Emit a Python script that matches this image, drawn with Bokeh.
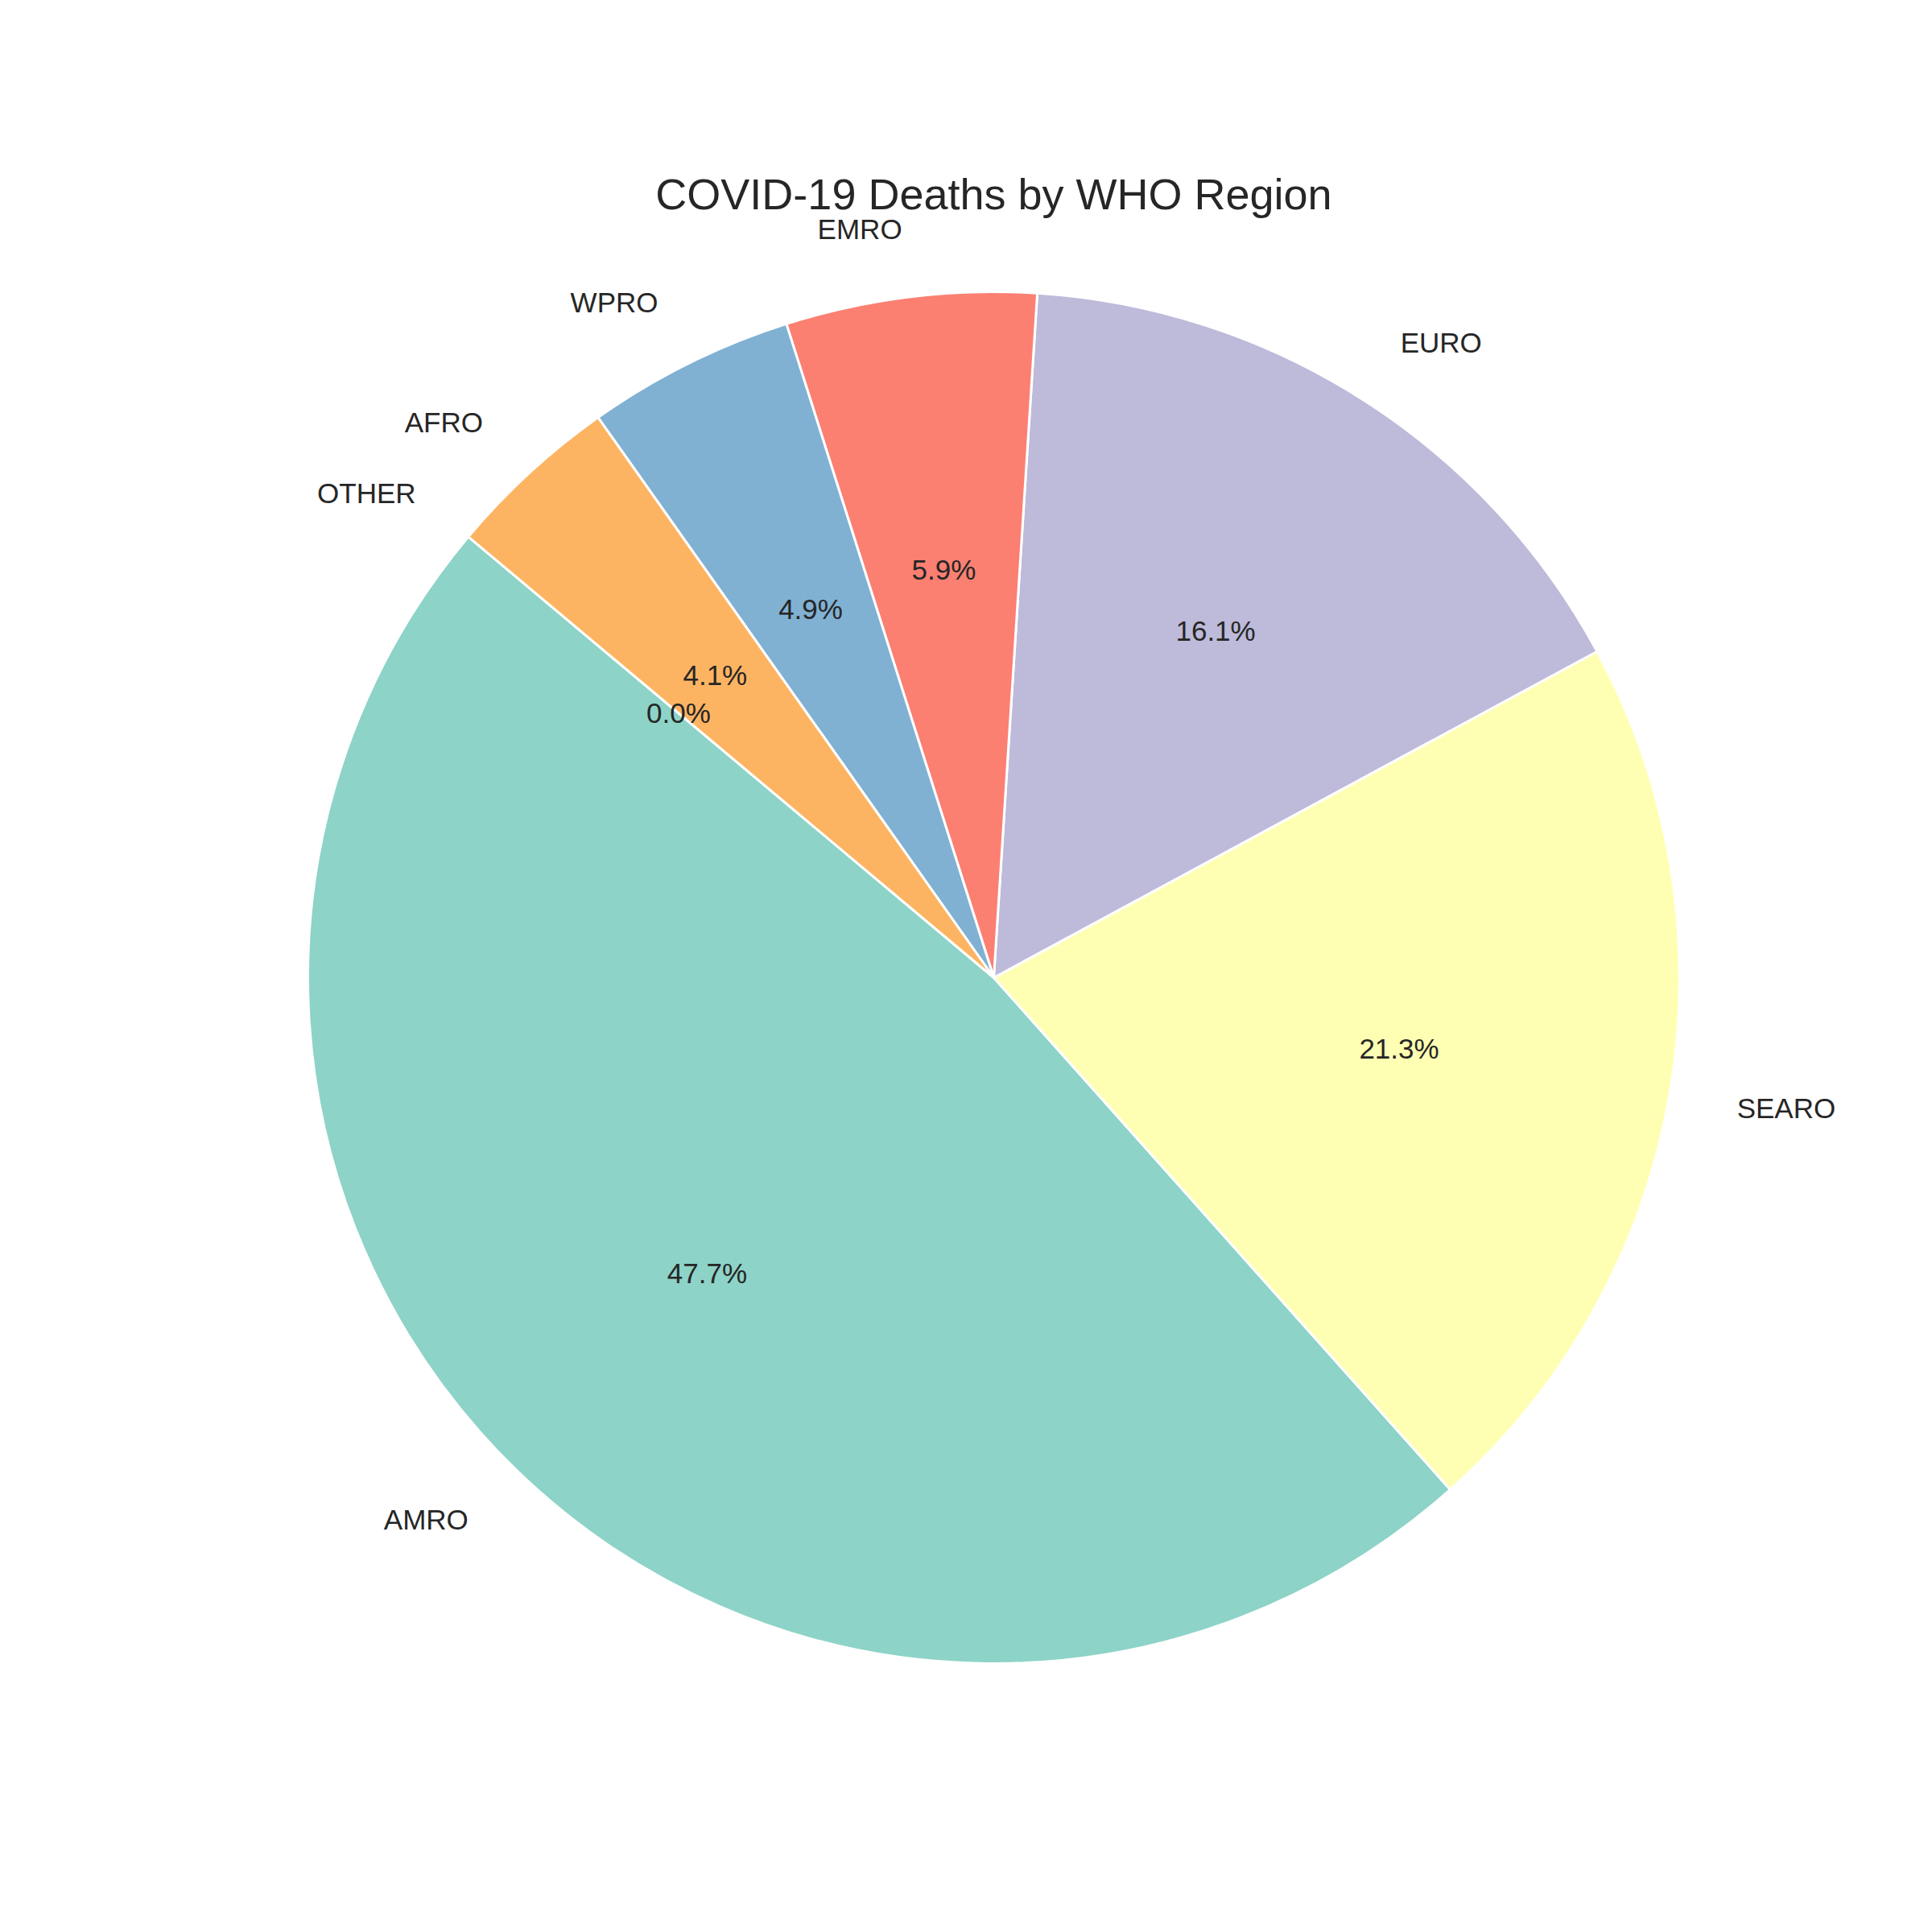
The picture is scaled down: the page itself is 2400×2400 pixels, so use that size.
import numpy as np
from bokeh.plotting import figure
from bokeh.models import ColumnDataSource
from bokeh.core.properties import value
from bokeh.embed import file_html
from bokeh.resources import INLINE

regions = ["AMRO", "SEARO", "EURO", "EMRO", "WPRO", "AFRO", "OTHER"]
shares = [47.7, 21.3, 16.1, 5.9, 4.9, 4.1, 0.0]
colors = ["#8dd3c7", "#ffffb3", "#bebada", "#fb8072", "#80b1d3", "#fdb462", "#b3de69"]

W = H = 2384
cx, cy, r = 1234, 1170, 852
start = np.deg2rad(140)

frac = np.array(shares) / sum(shares)
ends = start + np.cumsum(frac) * 2 * np.pi
starts = ends - frac * 2 * np.pi
mids = (starts + ends) / 2

src = ColumnDataSource(dict(
    lx=cx + 1.1 * r * np.cos(mids), ly=cy + 1.1 * r * np.sin(mids),
    px=cx + 0.6 * r * np.cos(mids), py=cy + 0.6 * r * np.sin(mids),
    label=regions, pct=["%.1f%%" % s for s in shares],
    align=["left" if np.cos(m) >= 0 else "right" for m in mids],
))

# zero-size slices would be drawn as full circles, so leave them out
keep = frac > 0
wsrc = ColumnDataSource(dict(start=starts[keep], end=ends[keep],
                             color=[c for c, k in zip(colors, keep) if k]))

p = figure(width=W, height=H, x_range=(0, W), y_range=(0, H),
           output_backend="svg", toolbar_location=None, min_border=0)
p.axis.visible = False
p.grid.visible = False
p.outline_line_color = None

p.wedge(x=cx, y=cy, radius=r, start_angle="start", end_angle="end",
        fill_color="color", line_color="white", line_width=3, source=wsrc)
p.text(x="lx", y="ly", text="label", text_align="align", text_baseline="middle",
       text_font=value("Liberation Sans"), text_font_size="35px",
       text_color="#262626", source=src)
p.text(x="px", y="py", text="pct", text_align="center", text_baseline="middle",
       text_font=value("Liberation Sans"), text_font_size="35px",
       text_color="#262626", source=src)
p.text(x=[cx], y=[H - 240], text=["COVID-19 Deaths by WHO Region"],
       text_align="center", text_baseline="middle",
       text_font=value("Liberation Sans"), text_font_size="54px", text_color="#262626")

open("out.html", "w").write(file_html(p, INLINE))
